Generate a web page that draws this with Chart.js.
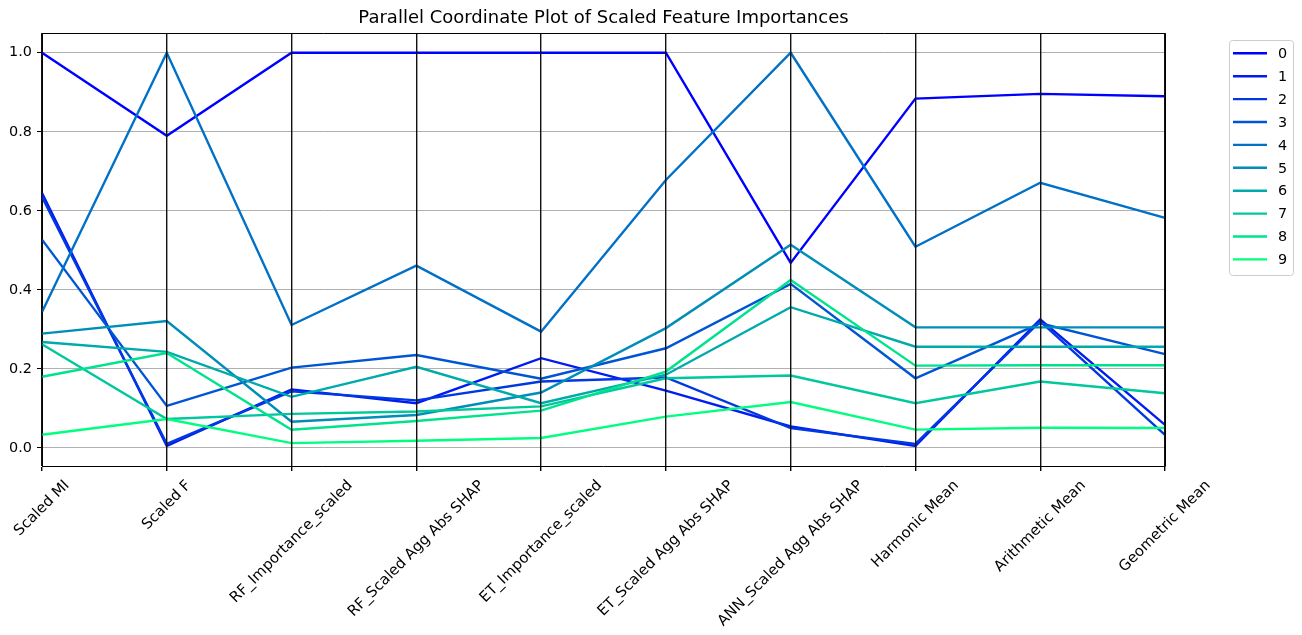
<!DOCTYPE html>
<html>
<head>
<meta charset="utf-8">
<title>Parallel Coordinate Plot of Scaled Feature Importances</title>
<script src="https://cdn.jsdelivr.net/npm/chart.js@4.4.1/dist/chart.umd.min.js"></script>
<style>
  html, body { margin: 0; padding: 0; background: #ffffff; }
  #wrap { width: 1302px; height: 635px; position: relative; }
</style>
</head>
<body>
<div id="wrap"><canvas id="chart"></canvas></div>
<script>
// Feature-importance columns (one vertical axis each)
const categories = [
  'Scaled MI', 'Scaled F', 'RF_Importance_scaled', 'RF_Scaled Agg Abs SHAP',
  'ET_Importance_scaled', 'ET_Scaled Agg Abs SHAP', 'ANN_Scaled Agg Abs SHAP',
  'Harmonic Mean', 'Arithmetic Mean', 'Geometric Mean'
];

// One row per feature, values along the axes above
const row0 = [1.000, 0.790, 1.000, 1.000, 1.000, 1.000, 0.468, 0.884, 0.896, 0.890];
const row1 = [0.645, 0.005, 0.148, 0.113, 0.227, 0.145, 0.054, 0.005, 0.325, 0.058];
const row2 = [0.635, 0.010, 0.143, 0.120, 0.168, 0.178, 0.050, 0.010, 0.320, 0.033];
const row3 = [0.527, 0.106, 0.203, 0.235, 0.175, 0.252, 0.415, 0.176, 0.315, 0.237];
const row4 = [0.344, 1.000, 0.311, 0.461, 0.294, 0.678, 1.000, 0.509, 0.671, 0.582];
const row5 = [0.289, 0.321, 0.066, 0.083, 0.140, 0.303, 0.514, 0.305, 0.305, 0.305];
const row6 = [0.268, 0.243, 0.129, 0.205, 0.113, 0.185, 0.356, 0.256, 0.256, 0.256];
const row7 = [0.262, 0.073, 0.086, 0.092, 0.105, 0.176, 0.183, 0.113, 0.168, 0.138];
const row8 = [0.180, 0.240, 0.046, 0.068, 0.094, 0.193, 0.425, 0.208, 0.209, 0.209];
const row9 = [0.033, 0.073, 0.012, 0.018, 0.025, 0.079, 0.116, 0.046, 0.051, 0.050];

const seriesNames = ['0', '1', '2', '3', '4', '5', '6', '7', '8', '9'];
const yTicks = [0.0, 0.2, 0.4, 0.6, 0.8, 1.0];

// "winter" colour ramp, blue -> green
const seriesColors = ['#0000ff', '#001cf1', '#0038e3', '#0055d4', '#0071c7',
                      '#008eb8', '#00aaaa', '#00c79c', '#00e38e', '#00ff80'];

const rows = [row0, row1, row2, row3, row4, row5, row6, row7, row8, row9];

const FONT = '"DejaVu Sans", "Liberation Sans", sans-serif';
const TICK_SIZE = 14.4;
const NAME_SIZE = 14.8;
const LINE_W = 2.4;

// Rotated (45°) axis names, centred under each axis
const axisNamesPlugin = {
  id: 'axisNames',
  afterDraw(chart) {
    const ctx = chart.ctx;
    const xs = chart.scales.x;
    const area = chart.chartArea;
    const fs = NAME_SIZE;
    const asc = 0.76 * fs, desc = 0.24 * fs;
    const c = Math.SQRT1_2;
    const top = area.bottom + 12;
    ctx.save();
    ctx.font = fs + 'px ' + FONT;
    ctx.fillStyle = '#000';
    ctx.textAlign = 'left';
    ctx.textBaseline = 'alphabetic';
    categories.forEach((name, i) => {
      const x = xs.getPixelForValue(i);
      const w = ctx.measureText(name).width;
      const ox = x - c * (w + desc - asc) / 2;
      const oy = top + c * (w + asc);
      ctx.save();
      ctx.translate(ox, oy);
      ctx.rotate(-Math.PI / 4);
      ctx.fillText(name, 0, 0);
      ctx.restore();
    });
    ctx.restore();
  }
};

// Top/right frame lines and the boxed legend outside the plot
const frameLegendPlugin = {
  id: 'frameLegend',
  afterDraw(chart) {
    const ctx = chart.ctx;
    const a = chart.chartArea;
    ctx.save();
    ctx.strokeStyle = '#000';
    ctx.lineWidth = 1;
    ctx.beginPath();
    ctx.moveTo(Math.round(a.left) + 0.5, Math.round(a.top) + 0.5);
    ctx.lineTo(Math.round(a.right) + 0.5, Math.round(a.top) + 0.5);
    ctx.lineTo(Math.round(a.right) + 0.5, Math.round(a.bottom) + 0.5);
    ctx.stroke();

    // legend box
    const lx = 1229.5, ly = 40.5, lw = 64, lh = 235;
    ctx.beginPath();
    if (ctx.roundRect) ctx.roundRect(lx, ly, lw, lh, 3); else ctx.rect(lx, ly, lw, lh);
    ctx.fillStyle = 'rgba(255,255,255,0.8)';
    ctx.fill();
    ctx.strokeStyle = '#cccccc';
    ctx.stroke();

    ctx.font = TICK_SIZE + 'px ' + FONT;
    ctx.textAlign = 'left';
    ctx.textBaseline = 'middle';
    const rowGap = 22.9;
    seriesNames.forEach((name, i) => {
      const y = 53.3 + i * rowGap;
      ctx.strokeStyle = seriesColors[i];
      ctx.lineWidth = LINE_W;
      ctx.beginPath();
      ctx.moveTo(1233, y);
      ctx.lineTo(1267, y);
      ctx.stroke();
      ctx.fillStyle = '#000';
      ctx.fillText(name, 1278, y + 1);
    });
    ctx.restore();
  }
};

const datasets = rows.map((vals, i) => ({
  label: seriesNames[i],
  data: vals,
  borderColor: seriesColors[i],
  backgroundColor: seriesColors[i],
  borderWidth: LINE_W,
  pointRadius: 0,
  pointHoverRadius: 0,
  tension: 0,
  fill: false,
  order: rows.length - i   // later rows painted on top
}));

new Chart(document.getElementById('chart'), {
  type: 'line',
  data: { labels: categories, datasets },
  options: {
    responsive: true,
    maintainAspectRatio: false,
    devicePixelRatio: 1,
    animation: false,
    layout: { padding: { left: 0, right: 137, top: 0, bottom: 0 } },
    plugins: {
      legend: { display: false },
      tooltip: { enabled: false },
      title: {
        display: true,
        text: 'Parallel Coordinate Plot of Scaled Feature Importances',
        color: '#000',
        fullSize: false,
        font: { family: FONT, size: 18, weight: 'normal' },
        padding: { top: 8, bottom: 3.4 }
      }
    },
    scales: {
      x: {
        type: 'category',
        offset: false,
        afterFit: (s) => { s.height = 635 - 466; },
        ticks: { display: false },
        grid: {
          color: '#111',
          lineWidth: 1.4,
          tickColor: '#000',
          tickLength: 5,
          offset: false,
          z: 1
        },
        border: { display: true, color: '#000', width: 1, z: 1 }
      },
      y: {
        min: -0.046,
        max: 1.05,
        afterBuildTicks: (s) => { s.ticks = yTicks.map(v => ({ value: v })); },
        afterFit: (s) => { s.width = 42; },
        ticks: {
          callback: (v) => Number(v).toFixed(1),
          color: '#000',
          padding: 5,
          font: { family: FONT, size: TICK_SIZE }
        },
        grid: {
          color: '#b0b0b0',
          lineWidth: 1,
          tickColor: '#000',
          tickLength: 5
        },
        border: { display: true, color: '#000', width: 1 }
      }
    }
  },
  plugins: [axisNamesPlugin, frameLegendPlugin]
});
</script>
</body>
</html>
